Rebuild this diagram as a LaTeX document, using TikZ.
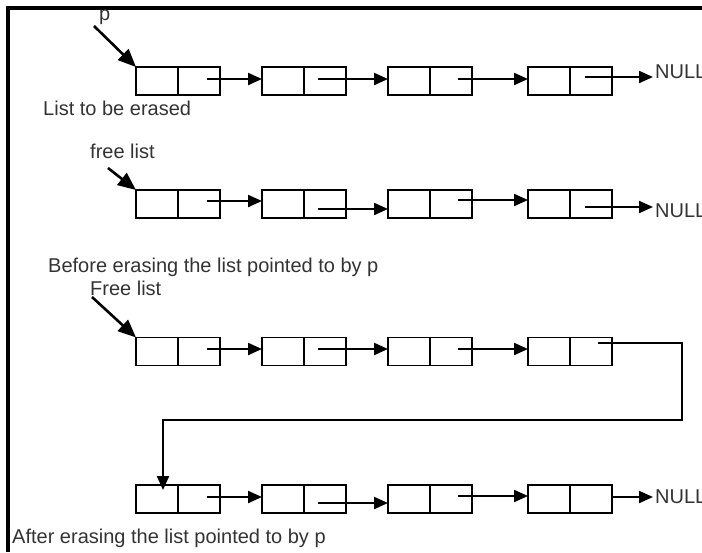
\documentclass[tikz,border=0pt]{standalone}
\usepackage{fontspec}
\setmainfont{Liberation Sans}
\usepackage{tikz}
\usetikzlibrary{arrows.meta}
\colorlet{labelgray}{black!80}

\tikzset{
  cell/.style={draw, line width=1.8pt, minimum width=42pt, minimum height=28pt, inner sep=0pt, outer sep=0pt},
  link/.style={-{Triangle[length=14pt, width=12pt]}, line width=2.2pt},
  head/.style={-{Triangle[length=18pt, width=15pt]}, line width=2.6pt},
  caption/.style={anchor=base west, inner sep=0pt, text=labelgray, font=\fontsize{20}{24}\selectfont},
}

\begin{document}
\begin{tikzpicture}[x=1pt, y=-1pt]
    \useasboundingbox (0,0) rectangle (702,552);

    % Frame
    \draw[line width=4pt] (702,8) -- (8,8) -- (8,552);

    % Boxes: data half (d..) and next half (n..)
    \foreach \r/\y in {a/81, b/204, c/351.5, d/499}{
      \foreach \i/\x in {1/136, 2/262, 3/388, 4/528}{
        \node[cell] (d\r\i) at (\x+21,\y) {};
        \node[cell] (n\r\i) at (\x+63,\y) {};
      }
    }

    % Labels
    \node[caption] (plabel) at (99,20) {p};
    \node[caption] (freea) at (90,158) {free list};
    \node[caption] (freeb) at (90,295) {Free list};
    \node[caption] (capa) at (43,115) {List to be erased};
    \node[caption] (capb) at (48,272) {Before erasing the list pointed to by p};
    \node[caption] (capc) at (12,543) {After erasing the list pointed to by p};
    \node[caption] (nulla) at (655,78) {NULL};
    \node[caption] (nullb) at (655,217) {NULL};
    \node[caption] (nulld) at (655,503) {NULL};

    % Head pointers
    \coordinate (ptail) at (94,26);
    \coordinate (ftaila) at (108,168);
    \coordinate (ftailb) at (92,297);
    \draw[head] (ptail) -- (da1.north west);
    \draw[head] (ftaila) -- (db1.north west);
    \draw[head] (ftailb) -- (dc1.north west);

    % Row a: list to be erased
    \coordinate (sa1) at ([xshift=8pt, yshift=2pt]na1.center);
    \coordinate (sa2) at ([xshift=-7pt, yshift=2pt]na2.center);
    \coordinate (sa3) at ([xshift=7pt, yshift=2pt]na3.center);
    \coordinate (sa4) at ([xshift=-6pt, yshift=4pt]na4.center);
    \draw[link] (sa1) -- (sa1 -| da2.west);
    \draw[link] (sa2) -- (sa2 -| da3.west);
    \draw[link] (sa3) -- (sa3 -| da4.west);
    \draw[link] (sa4) -- ([xshift=-2pt]sa4 -| nulla.west);

    % Row b: free list
    \coordinate (sb1) at ([xshift=8pt, yshift=3pt]nb1.center);
    \coordinate (sb2) at ([xshift=-7pt, yshift=-5pt]nb2.center);
    \coordinate (sb3) at ([xshift=7pt, yshift=4pt]nb3.center);
    \coordinate (sb4) at ([xshift=-6pt, yshift=-3pt]nb4.center);
    \draw[link] (sb1) -- (sb1 -| db2.west);
    \draw[link] (sb2) -- (sb2 -| db3.west);
    \draw[link] (sb3) -- (sb3 -| db4.west);
    \draw[link] (sb4) -- ([xshift=-2pt]sb4 -| nullb.west);

    % Row c: free list after erasing
    \coordinate (sc1) at ([xshift=8pt, yshift=2.5pt]nc1.center);
    \coordinate (sc2) at ([xshift=-7pt, yshift=2.5pt]nc2.center);
    \coordinate (sc3) at ([xshift=7pt, yshift=2.5pt]nc3.center);
    \coordinate (sc4) at ([xshift=7pt, yshift=8.5pt]nc4.center);
    \draw[link] (sc1) -- (sc1 -| dc2.west);
    \draw[link] (sc2) -- (sc2 -| dc3.west);
    \draw[link] (sc3) -- (sc3 -| dc4.west);

    % Wrap round to the erased list
    \coordinate (bend) at (682,420);
    \coordinate (drop) at ([xshift=6pt, yshift=-5pt]dd1.north);
    \draw[link] (sc4) -- (sc4 -| bend) -- (bend) -- (bend -| drop) -- (drop);

    % Row d: erased list appended
    \coordinate (sd1) at ([xshift=8pt, yshift=2pt]nd1.center);
    \coordinate (sd2) at ([xshift=-7pt, yshift=-4pt]nd2.center);
    \coordinate (sd3) at ([xshift=7pt, yshift=3pt]nd3.center);
    \coordinate (sd4) at ([yshift=2pt]nd4.east);
    \draw[link] (sd1) -- (sd1 -| dd2.west);
    \draw[link] (sd2) -- (sd2 -| dd3.west);
    \draw[link] (sd3) -- (sd3 -| dd4.west);
    \draw[link] (sd4) -- ([xshift=-2pt]sd4 -| nulld.west);
  \end{tikzpicture}
\end{document}
